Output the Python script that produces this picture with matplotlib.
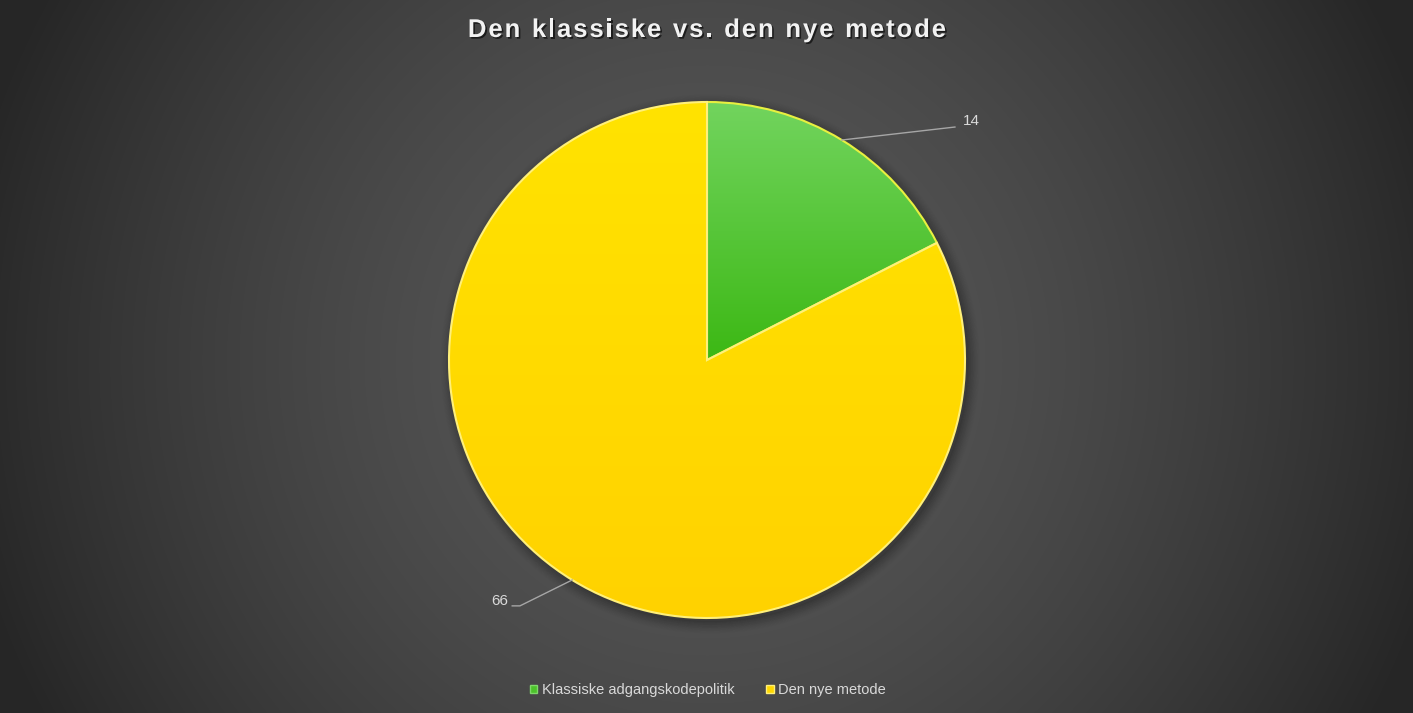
import numpy as np
import matplotlib
matplotlib.use("Agg")
import matplotlib.pyplot as plt
import matplotlib.patheffects as pe
from matplotlib.colors import LinearSegmentedColormap
from matplotlib.patches import Patch

# Data
categories = ["Klassiske adgangskodepolitik", "Den nye metode"]
values = [14, 66]
title = "Den klassiske vs. den nye metode"

W, H = 1413, 713
fig = plt.figure(figsize=(W / 100, H / 100), dpi=100)

# Radial gradient background
bg = fig.add_axes([0, 0, 1, 1])
bg.set_axis_off()
yy, xx = np.mgrid[0:H, 0:W]
r = np.sqrt(((xx - 707) / 760.0) ** 2 + ((yy - 360) / 760.0) ** 2)
r = np.clip(r, 0, 1)
light = np.array([0x58, 0x58, 0x58]) / 255
dark = np.array([0x26, 0x26, 0x26]) / 255
img = light[None, None, :] * (1 - r[..., None] ** 1.6) + dark[None, None, :] * (r[..., None] ** 1.6)
bg.imshow(img, extent=[0, 1, 0, 1], aspect="auto", origin="upper")
bg.set_xlim(0, 1)
bg.set_ylim(0, 1)

# Pie axes
R = 258
cx, cy = 707, H - 360
ax = fig.add_axes([(cx - R) / W, (cy - R) / H, 2 * R / W, 2 * R / H])
ax.set_xlim(-1, 1)
ax.set_ylim(-1, 1)
ax.set_aspect("equal")
ax.set_axis_off()

# soft shadow
for i, a in enumerate(np.linspace(0.05, 0.01, 8)):
    sh = plt.Circle((0.012, -0.015), 1.0 + 0.006 * i, color="black", alpha=a, zorder=0,
                    clip_on=False)
    ax.add_patch(sh)

wedges, _ = ax.pie(values, startangle=90, counterclock=False, radius=1.0,
                   colors=["#4cc22a", "#ffdf00"],
                   wedgeprops=dict(linewidth=1.5, zorder=1))
wedges[0].set_edgecolor("#e8f040")
wedges[1].set_edgecolor("#fff07a")

# gradient fills clipped to wedges
grads = [
    LinearSegmentedColormap.from_list("g", ["#3cb814", "#72d45e"]),
    LinearSegmentedColormap.from_list("y", ["#ffd200", "#ffe300"]),
]
grad = np.linspace(0, 1, 256).reshape(-1, 1)
for w, cmap in zip(wedges, grads):
    ext = [-1, 1, 0, 1] if cmap.name == "g" else [-1, 1, -1, 1]
    im = ax.imshow(grad, cmap=cmap, extent=ext, origin="lower", aspect="auto", zorder=1.5)
    im.set_clip_path(w)
for w in wedges:
    w.set_zorder(2)
    w.set_facecolor("none")

ax.set_xlim(-1, 1)
ax.set_ylim(-1, 1)

# Data labels with leader lines
total = sum(values)
lab_col = "#d9d9d9"
start = 90.0
mids = []
for v in values:
    ang = start - v / total * 360 / 2
    mids.append(np.deg2rad(ang))
    start -= v / total * 360

a = mids[0]
p0 = (np.cos(a), np.sin(a))
ax.plot([p0[0], 0.961], [p0[1], 0.903], color="#a6a6a6", lw=1, clip_on=False, zorder=3)
ax.text(0.99, 0.925, str(values[0]), color=lab_col, fontsize=11, ha="left", va="center",
        family="Liberation Sans", clip_on=False)
a = mids[1]
p1 = (np.cos(a), np.sin(a))
ax.plot([p1[0], -0.725, -0.755], [p1[1], -0.953, -0.953], color="#a6a6a6", lw=1,
        clip_on=False, zorder=3)
ax.text(-0.77, -0.935, str(values[1]), color=lab_col, fontsize=11, ha="right", va="center",
        family="Liberation Sans", clip_on=False)

# Title with expanded letter spacing
shadow = [pe.withSimplePatchShadow(offset=(1.2, -1.2), shadow_rgbFace="black", alpha=0.6)]
fig.canvas.draw()
renderer = fig.canvas.get_renderer()
tkw = dict(color="#f2f2f2", fontsize=18.5, fontweight="bold", family="Liberation Sans",
           va="baseline", ha="left", path_effects=shadow)
chars = []
widths = []
for ch in title:
    t = fig.text(0, 0, ch if ch != " " else "n", **tkw)
    bb = t.get_window_extent(renderer)
    widths.append(bb.width if ch != " " else bb.width * 0.5)
    if ch == " ":
        t.remove()
        chars.append(None)
    else:
        chars.append(t)
spacing = 1.85
total_w = sum(widths) + spacing * (len(title) - 1)
x = cx - total_w / 2
base_y = H - 37
for t, w in zip(chars, widths):
    if t is not None:
        t.set_position((x / W, base_y / H))
    x += w + spacing

# Legend
handles = [Patch(facecolor="#4cc22a", edgecolor="#7fd86a", label=categories[0]),
           Patch(facecolor="#ffd800", edgecolor="#fff07a", label=categories[1])]
fig.legend(handles=handles, loc="center", bbox_to_anchor=(708 / W, 1 - 690 / H), ncol=2,
           frameon=False, labelcolor=lab_col, handlelength=0.5,
           handleheight=0.5, handletextpad=0.3, columnspacing=2.2,
           prop={"family": "Liberation Sans", "size": 10.5})

fig.savefig("out.png", dpi=100)
